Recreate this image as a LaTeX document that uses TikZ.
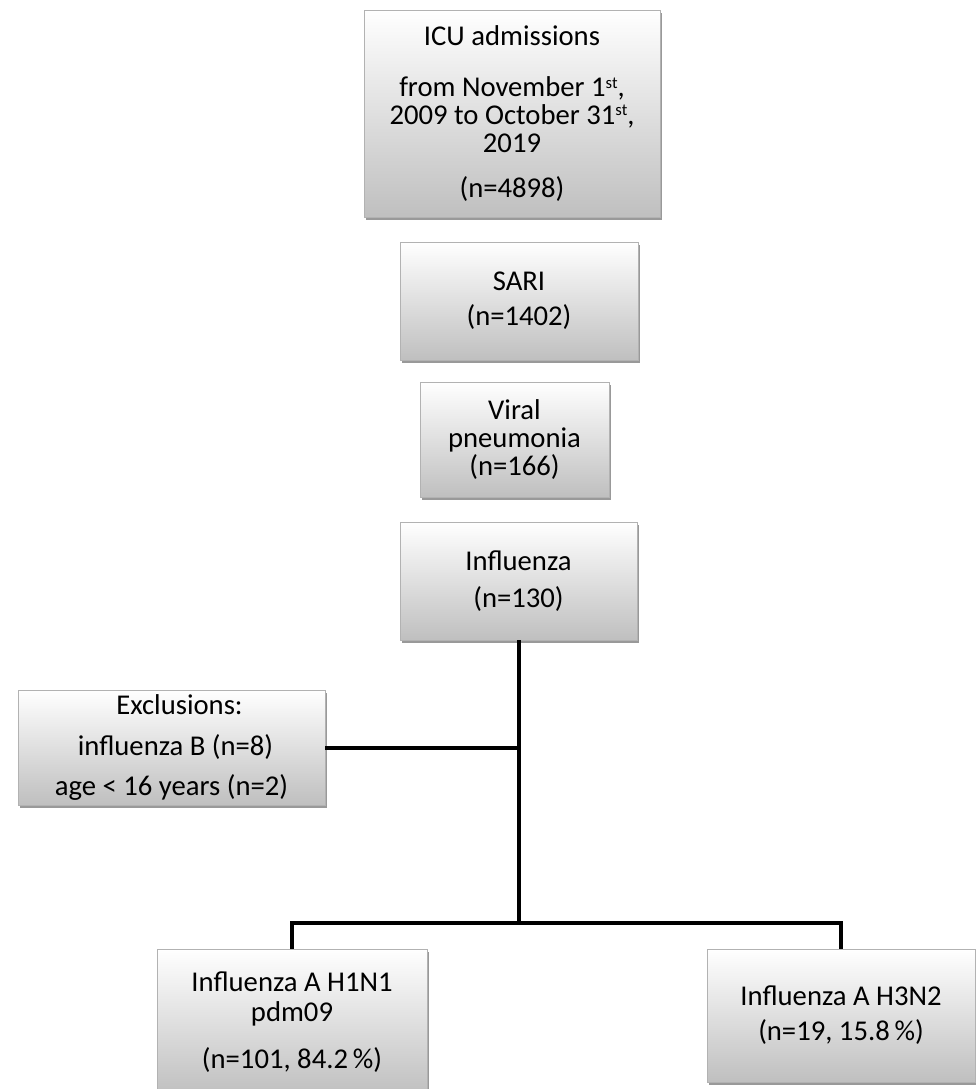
\documentclass[tikz,border=0pt]{standalone}
\usepackage{fontspec}
\setmainfont{Carlito}
\usetikzlibrary{shadows}
\newcommand{\supst}{\raisebox{6.5pt}{\fontsize{12.5}{12.5}\selectfont st}}
\begin{document}
\begin{tikzpicture}[x=0.75pt,y=-0.75pt,
  sz/.style 2 args={minimum width=#1*0.75pt, minimum height=#2*0.75pt},
  box/.style={draw=black!30, line width=0.6pt, top color=white, bottom color=black!25,
    drop shadow={shadow xshift=1.2pt, shadow yshift=-2.4pt, fill=black, opacity=0.4},
    inner sep=0pt, align=center, text=black,
    font=\fontsize{21.5}{20.8}\selectfont},
  conn/.style={draw=black, line width=3pt}]
\useasboundingbox (0,0) rectangle (975,1089);
\fill[white] (0,0) rectangle (975,1089);

\node[box, sz={296}{207}] (icu) at (512,113.5)
  {ICU admissions\\[17.4pt]
   from November 1\supst,\\
   2009 to October 31\supst,\\
   2019\\[13pt]
   (n=4898)};
\node[box, sz={238}{118}] (sari) at (519,301) {SARI\\[5.6pt](n=1402)};
\node[box, sz={189}{115}] (viral) at (514.5,439.5) {Viral\\pneumonia\\(n=166)};
\node[box, sz={237}{118}] (infl) at (518.5,581) {Influenza\\[7.1pt](n=130)};
\node[box, sz={307}{115}] (excl) at (171.5,747.5)
  {\hspace*{12pt}Exclusions:\\[10pt]\hspace*{6pt}influenza B (n=8)\\[9pt]age {<} 16 years (n=2)};
\node[box, sz={270}{146}] (hone) at (292,1022)
  {Influenza A H1N1\\[1.9pt]pdm09\\[13.9pt](n=101, 84.2\,\%)};
\node[box, sz={268}{133}] (hthree) at (841,1015.5)
  {Influenza A H3N2\\[5.6pt](n=19, 15.8\,\%)};

\coordinate (j) at (517,923);
\draw[conn] (infl.south) -- (infl.south |- j);
\draw[conn] (excl.east) -- (excl.east -| infl.south);
\draw[conn] (hone.north) -- (hone.north |- j) -- (hthree.north |- j) -- (hthree.north);
\end{tikzpicture}
\end{document}
